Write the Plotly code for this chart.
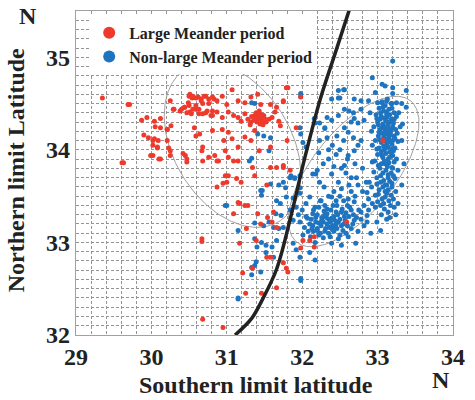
import numpy as np
import plotly.graph_objects as go

# ---------------- data (degrees N) ----------------
# Large Meander period: (southern limit, northern limit)
red_pts = [
    (29.35, 34.56), (29.71, 34.49), (29.87, 34.32), (29.94, 34.35), (30.12, 34.34), (30.05, 34.25),
    (29.90, 34.16), (29.96, 34.13), (30.02, 34.10), (30.09, 34.10), (30.02, 34.05), (30.08, 34.02),
    (30.23, 34.02), (30.21, 34.22), (30.26, 34.26), (30.25, 34.53), (30.30, 34.44), (30.02, 33.94),
    (30.10, 33.90), (29.63, 33.86), (30.25, 33.94), (30.45, 33.94), (30.47, 33.87), (30.68, 34.03),
    (30.67, 33.99), (30.84, 33.94), (30.59, 34.15), (30.50, 34.58), (30.54, 34.56), (30.59, 34.56),
    (30.49, 34.51), (30.66, 34.55), (30.68, 34.50), (30.70, 34.58), (30.63, 34.44), (30.40, 34.44),
    (30.44, 34.46), (30.47, 34.40), (30.50, 34.48), (30.55, 34.44), (30.53, 34.39), (30.59, 34.48),
    (30.63, 34.39), (30.72, 34.40), (30.81, 34.42), (30.79, 34.37), (30.83, 34.55), (30.76, 34.50),
    (30.51, 34.60), (30.55, 34.58), (30.62, 34.57), (30.66, 34.53), (30.72, 34.58), (30.76, 34.55),
    (30.81, 34.57), (30.87, 34.53), (30.94, 34.58), (31.00, 34.49), (31.07, 34.65), (31.15, 34.53),
    (31.24, 34.51), (31.32, 34.57), (31.41, 34.60), (31.45, 34.49), (31.58, 34.49), (31.66, 34.46),
    (31.75, 34.53), (31.79, 34.67), (30.29, 34.44), (30.38, 34.42), (30.44, 34.46), (30.51, 34.41),
    (30.59, 34.44), (30.68, 34.39), (30.74, 34.42), (30.81, 34.37), (30.87, 34.41), (30.94, 34.35),
    (31.02, 34.41), (31.09, 34.37), (31.15, 34.35), (31.19, 34.31), (31.24, 34.39), (31.28, 34.33),
    (31.32, 34.30), (31.37, 34.37), (31.41, 34.39), (31.43, 34.33), (31.45, 34.35), (31.47, 34.31),
    (31.49, 34.37), (31.52, 34.30), (31.56, 34.33), (31.60, 34.35), (31.64, 34.41), (31.69, 34.31),
    (31.71, 34.26), (31.38, 34.34), (31.42, 34.36), (31.40, 34.30), (31.36, 34.32), (31.46, 34.38),
    (31.44, 34.28), (31.50, 34.34), (31.33, 34.36), (31.39, 34.40), (31.48, 34.27), (31.43, 34.42),
    (31.31, 34.27), (30.04, 34.31), (30.12, 34.24), (30.21, 34.22), (30.04, 34.12), (30.21, 34.10),
    (30.08, 34.03), (29.99, 33.94), (30.12, 33.90), (30.25, 33.99), (30.42, 33.96), (30.57, 34.24),
    (30.64, 34.17), (30.81, 34.21), (30.94, 34.22), (31.02, 34.19), (30.96, 34.10), (31.07, 34.12),
    (31.15, 34.03), (31.24, 34.14), (31.32, 34.10), (31.37, 34.21), (31.43, 33.99), (31.58, 34.03),
    (30.68, 33.88), (30.76, 33.92), (30.87, 33.88), (30.98, 33.99), (31.02, 33.92), (31.09, 33.88),
    (31.15, 33.88), (30.47, 33.90), (31.58, 33.81), (31.75, 33.81), (31.84, 33.78), (30.98, 33.72),
    (31.00, 33.65), (30.87, 33.60), (31.19, 33.65), (31.17, 33.42), (31.24, 33.40), (31.09, 33.31),
    (31.41, 33.31), (31.54, 33.27), (31.62, 33.33), (31.66, 33.81), (31.45, 33.20), (31.92, 34.24),
    (31.81, 34.67), (31.75, 34.52), (30.89, 33.88), (31.34, 33.81), (31.02, 33.72), (31.13, 33.69),
    (30.95, 33.64), (31.37, 33.72), (31.75, 33.83), (31.53, 33.62), (31.15, 33.43), (31.28, 33.40),
    (31.26, 33.15), (31.39, 33.02), (31.17, 32.99), (30.67, 33.04), (30.67, 33.01), (31.66, 33.16),
    (31.98, 32.94), (32.10, 33.02), (31.75, 32.78), (31.60, 33.22), (31.53, 32.84), (31.58, 32.84),
    (31.79, 32.72), (31.81, 32.68), (31.21, 32.67), (31.34, 32.72), (31.25, 32.45), (31.46, 32.45),
    (31.66, 32.51), (30.68, 32.17), (30.95, 32.08), (33.07, 34.10), (32.59, 33.22), (32.16, 33.06),
    (32.16, 32.95), (32.01, 33.02), (29.61, 33.86), (29.69, 34.49), (31.98, 34.57), (31.80, 34.10),
]

# Non-large Meander period: (southern limit, northern limit)
blue_pts = [
    (33.20, 34.96), (32.93, 34.78), (33.06, 34.71), (33.10, 34.69), (33.20, 34.67), (33.38, 34.64),
    (32.56, 34.65), (32.97, 34.62), (33.20, 34.61), (32.48, 34.56), (32.39, 34.55), (32.69, 34.55),
    (32.88, 34.53), (33.00, 34.51), (33.06, 34.51), (33.12, 34.53), (33.19, 34.50), (33.25, 34.51),
    (33.32, 34.50), (32.56, 34.44), (32.62, 34.42), (32.68, 34.40), (32.78, 34.44), (32.33, 34.35),
    (32.39, 34.32), (32.48, 34.37), (32.23, 34.29), (32.69, 34.34), (32.74, 34.29), (32.82, 34.32),
    (32.56, 34.24), (32.61, 34.19), (32.46, 34.15), (32.30, 34.23), (32.33, 34.13), (32.23, 34.10),
    (32.68, 34.13), (32.78, 34.10), (32.74, 34.05), (32.99, 34.01), (33.12, 34.03), (33.21, 33.99),
    (33.06, 33.94), (33.16, 33.92), (33.25, 33.90), (32.93, 33.87), (33.01, 33.83), (33.10, 33.85),
    (33.19, 33.81), (33.27, 33.78), (32.95, 33.76), (33.04, 33.72), (33.14, 33.70), (33.23, 33.69),
    (32.89, 33.65), (32.99, 33.63), (33.10, 33.62), (33.19, 33.60), (32.86, 33.54), (32.97, 33.51),
    (33.12, 33.53), (33.21, 33.47), (33.27, 33.42), (33.04, 33.40), (32.93, 33.42), (33.14, 33.33),
    (32.78, 33.33), (32.86, 33.29), (32.22, 33.97), (32.35, 33.90), (32.18, 33.74), (32.39, 33.74),
    (32.61, 33.94), (32.56, 33.83), (32.69, 33.99), (32.65, 33.70), (32.29, 33.60), (32.52, 33.58),
    (32.74, 33.62), (32.39, 33.49), (32.61, 33.47), (32.22, 33.38), (32.46, 33.40), (32.69, 33.44),
    (32.82, 33.40), (32.33, 33.31), (32.52, 33.33), (32.65, 33.35), (32.26, 33.24), (32.39, 33.26),
    (32.48, 33.22), (32.56, 33.28), (32.69, 33.24), (32.82, 33.18), (32.31, 33.15), (32.44, 33.17),
    (32.54, 33.13), (32.65, 33.15), (32.74, 33.12), (32.22, 33.08), (32.37, 33.06), (32.48, 33.04),
    (32.61, 33.06), (32.39, 32.99), (32.52, 32.97), (32.71, 32.99), (32.86, 33.22), (32.99, 33.22),
    (33.16, 33.27), (33.04, 33.13), (32.91, 33.10), (32.30, 33.30), (32.35, 33.25), (32.42, 33.28),
    (32.45, 33.20), (32.50, 33.25), (32.40, 33.18), (32.33, 33.20), (32.28, 33.22), (32.38, 33.35),
    (32.45, 33.33), (32.55, 33.20), (32.60, 33.18), (32.25, 33.18), (32.20, 33.15), (32.35, 33.10),
    (32.42, 33.12), (32.50, 33.08), (32.28, 33.05), (32.15, 33.12), (32.10, 33.20), (31.85, 33.72),
    (31.90, 33.70), (31.97, 33.72), (32.14, 33.74), (32.20, 33.78), (32.23, 33.65), (31.75, 33.65),
    (31.78, 33.59), (31.69, 33.62), (31.47, 33.56), (31.46, 33.51), (31.66, 33.45), (31.71, 33.42),
    (31.88, 33.48), (31.97, 33.53), (31.92, 33.38), (32.05, 33.42), (32.10, 33.49), (32.17, 33.38),
    (32.14, 33.31), (32.24, 33.45), (31.65, 33.31), (31.72, 33.29), (31.84, 33.35), (31.37, 33.21),
    (31.49, 33.18), (31.56, 33.22), (31.62, 33.16), (31.69, 33.15), (31.75, 33.16), (31.88, 33.24),
    (31.97, 33.22), (32.03, 33.16), (32.07, 33.26), (32.14, 33.18), (32.20, 33.13), (32.01, 33.08),
    (32.11, 33.06), (32.17, 33.00), (31.15, 33.13), (31.37, 33.04), (31.46, 33.00), (31.52, 32.97),
    (31.60, 32.95), (31.66, 33.02), (31.40, 32.95), (31.52, 32.89), (31.62, 32.84), (31.88, 32.99),
    (31.92, 32.92), (31.97, 32.84), (32.10, 32.89), (32.17, 32.81), (31.34, 32.73), (31.39, 32.79),
    (30.98, 33.40), (31.33, 34.51), (31.41, 34.17), (31.49, 34.15), (31.33, 33.91), (31.56, 33.99),
    (31.45, 33.56), (31.58, 33.63), (31.79, 33.49), (31.00, 33.40), (31.84, 33.70), (31.90, 33.69),
    (31.97, 33.59), (31.98, 34.61), (31.98, 34.58), (31.37, 34.50), (31.58, 34.13), (31.97, 34.24),
    (32.01, 34.08), (32.05, 34.03), (31.30, 33.88), (32.16, 34.34), (32.17, 34.29), (32.55, 34.65),
    (32.78, 34.53), (32.30, 34.24), (31.98, 34.17), (32.48, 34.64), (32.50, 34.56), (31.37, 32.75),
    (31.33, 32.73), (31.33, 32.65), (31.45, 32.68), (31.15, 32.40), (31.98, 32.61), (31.98, 32.59),
    (31.15, 32.39), (33.38, 34.46), (33.33, 34.28), (33.32, 34.10), (33.32, 33.62), (33.35, 33.85),
    (33.02, 34.45), (33.08, 34.42), (33.15, 34.44), (33.22, 34.40), (32.98, 34.38), (33.05, 34.36),
    (33.12, 34.35), (33.18, 34.33), (33.25, 34.36), (33.00, 34.30), (33.07, 34.28), (33.14, 34.27),
    (33.21, 34.29), (32.95, 34.25), (33.03, 34.22), (33.10, 34.21), (33.17, 34.20), (33.24, 34.22),
    (33.01, 34.15), (33.08, 34.14), (33.15, 34.13), (33.22, 34.15), (32.97, 34.10), (33.05, 34.08),
    (33.12, 34.07), (33.19, 34.06), (33.27, 34.09), (33.02, 34.02), (33.09, 34.00), (33.16, 33.98),
    (33.23, 34.02), (32.93, 34.05), (33.10, 34.48), (33.18, 34.50), (33.06, 34.52), (33.13, 34.55),
    (32.90, 34.40), (32.92, 34.20), (33.30, 34.25), (33.28, 34.40), (33.11, 34.31), (33.06, 34.18),
    (33.13, 34.17), (33.09, 34.25), (33.16, 34.38), (33.04, 34.40), (33.20, 34.10), (33.00, 33.95),
    (33.07, 33.92), (33.14, 33.90), (33.20, 33.94), (32.96, 33.88), (33.03, 33.80), (33.11, 33.78),
    (33.18, 33.75), (32.99, 33.70), (33.08, 33.67), (33.16, 33.66), (33.02, 33.57), (33.10, 33.55),
    (33.24, 33.55), (32.92, 33.60), (33.06, 33.47), (33.15, 33.45), (32.97, 33.38), (33.09, 33.36),
    (33.22, 33.38), (32.88, 33.47), (33.05, 33.30), (33.12, 33.25), (32.60, 33.40), (32.70, 33.50),
    (32.80, 33.55), (32.75, 33.35), (32.85, 33.65), (32.65, 33.55), (32.55, 33.45), (32.50, 33.50),
    (32.45, 33.45), (32.58, 33.32), (32.68, 33.30), (32.78, 33.25), (32.88, 33.35), (32.62, 33.62),
    (32.72, 33.70), (32.80, 33.80), (32.70, 33.85), (32.58, 33.75), (32.48, 33.65), (32.42, 33.55),
    (32.35, 33.50), (32.30, 33.40), (32.25, 33.45), (32.20, 33.30), (32.15, 33.35), (32.05, 33.28),
    (32.00, 33.35), (31.95, 33.30), (32.12, 33.25), (32.18, 33.22), (32.40, 34.05), (32.50, 34.00),
    (32.55, 34.10), (32.45, 33.95), (32.60, 33.90), (32.35, 34.00), (32.28, 33.85), (32.52, 33.80),
    (32.42, 33.82), (32.65, 34.30),
    (33.03, 34.33), (33.09, 34.34), (33.16, 34.30), (33.12, 34.41), (33.19, 34.45), (33.07, 34.46),
    (33.01, 34.27), (33.14, 34.23), (33.20, 34.25), (33.06, 34.24), (33.11, 34.18), (33.17, 34.16),
    (33.03, 34.11), (33.10, 34.10), (33.16, 34.09), (33.23, 34.12), (33.08, 34.04), (33.14, 34.03),
    (33.19, 34.01), (33.05, 33.98), (33.11, 33.96), (33.18, 33.97), (33.09, 33.88), (33.15, 33.86),
    (33.22, 33.87), (33.05, 33.85), (33.13, 33.82), (33.20, 33.80), (33.07, 33.75), (33.14, 33.73),
    (33.21, 33.72), (33.04, 33.65), (33.12, 33.62), (33.19, 33.64), (33.07, 33.60), (33.14, 33.57),
    (33.01, 33.52), (33.18, 33.51), (33.10, 33.49), (33.08, 33.42), (33.17, 33.40), (33.00, 33.44),
    (33.24, 33.30), (33.13, 34.12), (33.02, 34.19), (33.18, 34.22), (33.12, 34.38), (33.22, 34.33),
    (33.26, 34.18), (32.99, 34.34),
    (32.32, 33.27), (32.37, 33.22), (32.43, 33.24), (32.47, 33.30), (32.52, 33.18), (32.57, 33.24),
    (32.62, 33.28), (32.40, 33.14), (32.46, 33.15), (32.36, 33.16), (32.30, 33.12), (32.26, 33.27),
    (32.22, 33.21), (32.18, 33.27), (32.53, 33.36), (32.63, 33.38), (32.67, 33.20), (32.72, 33.27),
    (32.58, 33.10), (32.33, 33.36), (32.41, 33.40), (32.29, 33.34), (32.24, 33.10), (32.13, 33.15),
    (32.08, 33.12),
]

# boundary line between the two regimes
line_x = [31.11, 31.33, 31.47, 31.66, 31.84, 32.03, 32.24, 32.44, 32.66]
line_y = [32.00, 32.18, 32.38, 32.71, 33.25, 33.90, 34.55, 35.05, 35.60]

# ellipses: centre (deg), semi-axes (deg of longitude-equivalent), tilt (deg)
ell_red = dict(cx=31.076, cy=34.051, a=1.162, b=0.772, tilt=-56.9)
ell_blue = dict(cx=32.683, cy=33.766, a=1.183, b=0.540, tilt=50.0)

x_ticks = [29, 30, 31, 32, 33, 34]
y_ticks = [32, 33, 34, 35]

# ---------------- figure ----------------
RED = "#ee3a2c"
BLUE = "#1f74c0"
FONT = "Liberation Serif"
ASPECT = 92.86 / 77.8  # screen px per lat-degree / px per lon-degree


def ellipse(p, n=200):
    t = np.linspace(0, 2 * np.pi, n)
    ph = np.deg2rad(p["tilt"])
    ex = p["cx"] + p["a"] * np.cos(t) * np.cos(ph) - p["b"] * np.sin(t) * np.sin(ph)
    ey = p["cy"] + (p["a"] * np.cos(t) * np.sin(ph) + p["b"] * np.sin(t) * np.cos(ph)) / ASPECT
    return ex, ey


fig = go.Figure()
for p in (ell_red, ell_blue):
    ex, ey = ellipse(p)
    fig.add_trace(go.Scatter(x=ex, y=ey, mode="lines", line=dict(color="#a0a0a0", width=1),
                             showlegend=False, hoverinfo="skip"))

rx, ry = zip(*red_pts)
bx, by = zip(*blue_pts)
fig.add_trace(go.Scatter(x=bx, y=by, mode="markers", name="<b>Non-large Meander period</b>",
                         marker=dict(color=BLUE, size=5), legendrank=2))
fig.add_trace(go.Scatter(x=rx, y=ry, mode="markers", name="<b>Large Meander period</b>",
                         marker=dict(color=RED, size=5), legendrank=1))
fig.add_trace(go.Scatter(x=line_x, y=line_y, mode="lines",
                         line=dict(color="#222222", width=3.5, shape="spline"),
                         showlegend=False, hoverinfo="skip"))

grid = dict(showgrid=True, gridcolor="#949494", gridwidth=0.7, griddash="3px,2px")
tfont = dict(family=FONT, size=24, color="#222222")
axcommon = dict(showline=True, mirror=True, linecolor="#a0a0a0", linewidth=1.2, zeroline=False,
                ticks="", tickfont=tfont, ticklabeloverflow="allow", **grid)
fig.update_xaxes(range=[29, 34], tickvals=x_ticks, ticktext=[f"<b>{v}</b>" for v in x_ticks],
                 minor=dict(dtick=0.2, **grid), **axcommon)
fig.update_yaxes(range=[32, 35.5], tickvals=y_ticks, ticktext=[f"<b>{v}</b>" for v in y_ticks],
                 minor=dict(dtick=0.1, **grid), **axcommon)

afont = dict(family=FONT, size=24, color="#222222")
fig.add_annotation(text="<b>Southern limit latitude</b>", xref="paper", yref="paper", x=0.478, y=-0.154,
                   showarrow=False, font=afont, xanchor="center", yanchor="middle")
fig.add_annotation(text="<b>Northern limit Latitude</b>", xref="paper", yref="paper", x=-0.157, y=0.508,
                   showarrow=False, font=afont, textangle=-90, xanchor="center", yanchor="middle")
fig.add_annotation(text="<b>N</b>", xref="paper", yref="paper", x=-0.126, y=0.985,
                   showarrow=False, font=afont, xanchor="center", yanchor="middle")
fig.add_annotation(text="<b>N</b>", xref="paper", yref="paper", x=0.967, y=-0.138,
                   showarrow=False, font=afont, xanchor="center", yanchor="middle")

fig.update_layout(
    width=475, height=400,
    margin=dict(l=76, r=10, t=10, b=65),
    plot_bgcolor="white", paper_bgcolor="white",
    legend=dict(x=0.035, y=0.985, xanchor="left", yanchor="top", bgcolor="white",
                font=dict(family=FONT, size=16, color="#222222"),
                itemsizing="constant", tracegroupgap=0, borderwidth=0, traceorder="normal"),
)
fig.write_html("out.html")
